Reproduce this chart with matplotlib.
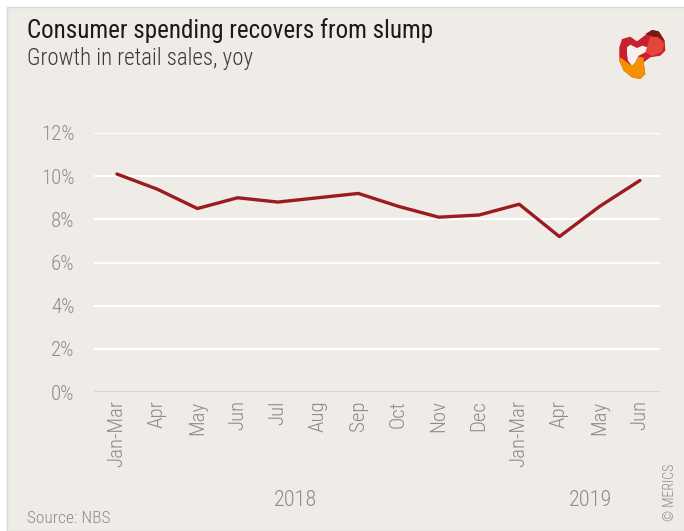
import matplotlib
matplotlib.use("Agg")
import matplotlib.pyplot as plt
from matplotlib import font_manager
from matplotlib.patches import Polygon, Rectangle

# retail sales growth, yoy in %
months = ["Jan-Mar", "Apr", "May", "Jun", "Jul", "Aug", "Sep", "Oct", "Nov", "Dec",
          "Jan-Mar", "Apr", "May", "Jun"]
growth = [10.1, 9.4, 8.5, 9.0, 8.8, 9.0, 9.2, 8.6, 8.1, 8.2, 8.7, 7.2, 8.6, 9.8]
years = ["2018", "2019"]
year_pos = [4.45, 11.77]
yticks = [0, 2, 4, 6, 8, 10, 12]

bg = "#efebe6"
grey = "#8c8c8c"
red = "#9b1b1f"

# narrow font if there is one
names = {f.name for f in font_manager.fontManager.ttflist}
font = "DejaVu Sans"
for name in ["Liberation Sans Narrow", "Roboto Condensed", "Roboto", "Liberation Sans"]:
    if name in names:
        font = name
        break
plt.rcParams["font.family"] = [font, "DejaVu Sans"]

W, H = 684, 531
fig = plt.figure(figsize=(W / 100, H / 100), dpi=100)
fig.patch.set_facecolor("white")

# panel with thin border
fig.patches.append(Rectangle((6.5 / W, 0), 1, 1 - 6.5 / H, transform=fig.transFigure,
                             facecolor=bg, edgecolor="#d8d8d8", linewidth=1.0, zorder=-5))

ax = fig.add_axes([94 / W, 1 - 392 / H, (660 - 94) / W, (392 - 133) / H])
ax.set_facecolor(bg)
ax.patch.set_alpha(0)

for v in yticks[1:]:
    ax.axhline(v, color="white", linewidth=1.6, zorder=1)
ax.axhline(0, color="#d9d6d2", linewidth=2.2, zorder=1)

x = range(len(months))
ax.plot(x, growth, color=red, linewidth=2.4, solid_capstyle="round", zorder=3)

ax.set_xlim(-0.57, len(months) - 1 + 0.5)
ax.set_ylim(0, 12)
ax.set_yticks(yticks)
ax.set_yticklabels([f"{v}%" for v in yticks], fontweight="light")
ax.set_xticks(list(x))
ax.set_xticklabels(months, rotation=90, va="top", fontweight="light")
ax.tick_params(axis="y", length=0, pad=14, labelsize=15, labelcolor=grey)
ax.tick_params(axis="x", length=0, pad=6, labelsize=15, labelcolor=grey)
for s in ax.spines.values():
    s.set_visible(False)

for yr, xp in zip(years, year_pos):
    ax.text(xp, -0.42, yr, transform=ax.get_xaxis_transform(), ha="center", va="center",
            fontsize=16, color=grey, fontweight="light")

fig.text(27 / W, 1 - 18 / H, "Consumer spending recovers from slump", ha="left", va="top",
         fontsize=18, color="#1a1a1a")
fig.text(27 / W, 1 - 47 / H, "Growth in retail sales, yoy", ha="left", va="top",
         fontsize=16.5, color="#3a3a3a", fontweight="light")
fig.text(27 / W, 1 - 526 / H, "Source: NBS", ha="left", va="bottom", fontsize=12.5,
         color=grey, fontweight="light")
fig.text(670 / W, 1 - 521 / H, "© MERICS", ha="center", va="bottom", rotation=90,
         fontsize=10, color=grey, fontweight="light")

# logo, drawn in a 64x60 pixel box
lg = fig.add_axes([612 / W, 1 - 84 / H, 64 / W, 60 / H])
lg.set_xlim(0, 64)
lg.set_ylim(60, 0)
lg.axis("off")
outer = [(10, 15), (18.3, 12.7), (25, 17.3), (40, 6), (46.7, 7.3), (52.7, 16.7), (53.3, 26.7),
         (48.3, 31.7), (38.3, 33.3), (31.7, 38.3), (33.3, 50), (28.3, 55), (20, 53.3),
         (11.7, 46.7), (7.3, 36.7), (7.3, 23.3)]
orange = [(7.3, 33), (12, 36), (16, 39), (20, 41.7), (23.3, 38.3), (26.7, 33), (31.7, 33.5),
          (31.7, 38.3), (33.3, 50), (28.3, 55), (20, 53.3), (11.7, 46.7), (7.3, 36.7)]
dark = [(33.3, 10), (40, 6), (46.7, 7.3), (52.7, 16.7), (47, 14), (40, 12)]
light = [(35, 23.3), (38, 13), (46, 13), (52, 20), (50, 28), (40, 32), (33.3, 28.3)]
hole = [(15, 23.3), (18.3, 20.7), (25, 24), (30.7, 21.7), (35, 23.3), (33.3, 28.3), (26.7, 31.7),
        (23.3, 38.3), (20, 41.7), (16, 36.7), (15, 30)]
for pts, c in [(outer, "#c8202f"), (orange, "#f39200"), (dark, "#7a1a10"),
               (light, "#e5453a"), (hole, "#f5f1ee")]:
    lg.add_patch(Polygon(pts, closed=True, facecolor=c, edgecolor="none"))

fig.savefig("out.png", dpi=100, facecolor=fig.get_facecolor())
